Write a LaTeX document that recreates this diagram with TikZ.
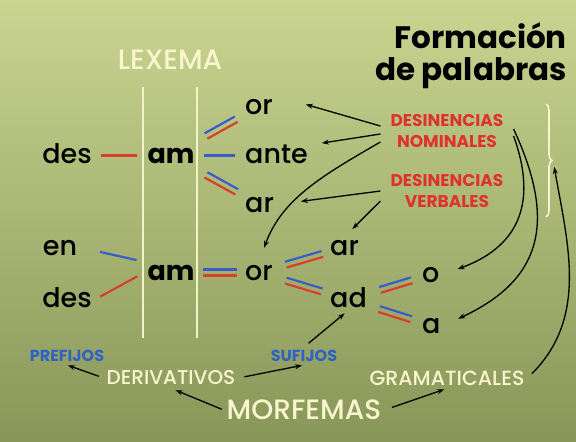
\documentclass[tikz,border=0pt]{standalone}
\usepackage{fontspec}
\setmainfont{Poppins}
\newfontfamily\mediumfont{Poppins Medium}
\usetikzlibrary{calc,arrows.meta,decorations.pathreplacing}

\definecolor{leafgreen}{HTML}{C9D58F}
\definecolor{olivegreen}{HTML}{889659}
\definecolor{creamtext}{HTML}{F8F5CF}
\definecolor{strokered}{HTML}{D8402C}
\definecolor{strokeblue}{HTML}{3A5DCB}
\definecolor{labelred}{HTML}{E0322C}
\definecolor{labelblue}{HTML}{2F62C4}

% two parallel strokes, blue on the left of the way out, red on the right
\newcommand{\morphpair}[4]{%
    \draw[blue stroke, shorten <=#3, shorten >=#4]
        ($(#1.center)!3pt!90:(#2.center)$) -- ($(#2.center)!3pt!-90:(#1.center)$);
    \draw[red stroke, shorten <=#3, shorten >=#4]
        ($(#1.center)!3pt!-90:(#2.center)$) -- ($(#2.center)!3pt!90:(#1.center)$);}

\begin{document}
\begin{tikzpicture}[
    x=1pt, y=1pt,
    morph/.style={font=\mediumfont\fontsize{27}{27}\selectfont, text height=15pt,
        text depth=0pt, inner sep=3pt},
    stem/.style={morph, font=\bfseries\fontsize{27}{27}\selectfont},
    cream label/.style={text=creamtext, inner sep=3pt},
    red label/.style={text=labelred, align=center, inner xsep=10pt,
        inner ysep=3pt, font=\bfseries\fontsize{17}{21}\selectfont},
    blue label/.style={text=labelblue, inner sep=3pt,
        font=\bfseries\fontsize{16}{16}\selectfont},
    red stroke/.style={strokered, line width=2.2pt},
    blue stroke/.style={strokeblue, line width=2.2pt},
    lexeme rule/.style={creamtext!90!leafgreen, line width=1.5pt},
    arr/.style={-{Stealth[length=7pt,width=5pt]}, line width=1.3pt, black}
    ]
    \useasboundingbox (0,0) rectangle (576,-442);
    \shade[top color=leafgreen, bottom color=olivegreen] (0,0) rectangle (576,-442);

    % Titles
    \node[cream label, font=\mediumfont\fontsize{28}{28}\selectfont] (lexema) at (170,-60) {LEXEMA};
    \node[anchor=base east, inner sep=0pt, font=\bfseries\fontsize{31}{31}\selectfont]
        (title1) at (567,-48) {Formación};
    \node[anchor=base east, inner sep=0pt, font=\bfseries\fontsize{31}{31}\selectfont]
        (title2) at (567,-80) {de palabras};

    % The lexeme between two rules
    \draw[lexeme rule] (143,-87) -- (143,-338);
    \draw[lexeme rule] (197,-87) -- (197,-338);

    % First word family
    \node[morph, anchor=base] (des1) at (67,-163) {des};
    \node[stem, anchor=base] (am1) at (171,-163) {am};
    \node[morph, anchor=base west] (or1) at (242,-114) {or};
    \node[morph, anchor=base west] (ante) at (242,-163) {ante};
    \node[morph, anchor=base west] (ar1) at (242,-212) {ar};

    % Second word family
    \node[morph, anchor=base] (en) at (60,-255) {en};
    \node[morph, anchor=base] (des2) at (67,-307) {des};
    \node[stem, anchor=base] (am2) at (171,-280) {am};
    \node[morph, anchor=base west] (or2) at (242,-280) {or};
    \node[morph, anchor=base west] (ar2) at (327,-255) {ar};
    \node[morph, anchor=base west] (ad) at (327,-307) {ad};
    \node[morph, anchor=base west] (o) at (419,-282) {o};
    \node[morph, anchor=base west] (a) at (419,-333) {a};

    % Strokes between morphemes
    \draw[red stroke, shorten <=6pt, shorten >=7pt] (des1) -- (am1);
    \draw[blue stroke, shorten <=6pt, shorten >=7pt] (am1) -- (ante);
    \draw[blue stroke, shorten <=20pt, shorten >=8pt] (en.east) -- (am2.north west);
    \draw[red stroke, shorten <=6pt, shorten >=8pt] (des2.east) -- (am2.west);
    \morphpair{am1}{or1}{40pt}{26pt}
    \morphpair{am1}{ar1}{40pt}{26pt}
    \morphpair{am2}{or2}{32pt}{22pt}
    \morphpair{or2}{ar2}{28pt}{23pt}
    \morphpair{or2}{ad}{28pt}{28pt}
    \morphpair{ad}{o}{33pt}{20pt}
    \morphpair{ad}{a}{32pt}{21pt}

    % Endings
    \node[red label] (dn) at (447,-131) {DESINENCIAS\\NOMINALES};
    \node[red label] (dv) at (447,-191) {DESINENCIAS\\VERBALES};
    \draw[creamtext, line width=1.6pt, decorate, decoration={brace, amplitude=6pt}]
        (546,-104) -- (546,-217);
    \coordinate (bracetip) at (553,-160);

    % Morphemes
    \node[cream label, font=\mediumfont\fontsize{28}{28}\selectfont] (morf) at (304,-410) {MORFEMAS};
    \node[cream label, font=\mediumfont\fontsize{20}{20}\selectfont] (deriv) at (171,-378) {DERIVATIVOS};
    \node[cream label, font=\mediumfont\fontsize{20.5}{20.5}\selectfont] (gram) at (447,-378) {GRAMATICALES};
    \node[blue label] (pref) at (67,-356) {PREFIJOS};
    \node[blue label] (suf) at (304,-356) {SUFIJOS};

    % Arrows
    \draw[arr, shorten >=31pt] ([yshift=5pt]dn.west) -- (or1.north east);
    \draw[arr, shorten >=11pt] ([yshift=-3pt]dn.west) -- (ante.north east);
    \draw[arr, shorten >=15pt] ([yshift=-11pt]dn.west) to[out=-150, in=70] (or2.north);
    \draw[arr, shorten >=24pt] (dv.west) -- (ar1.east);
    \draw[arr, shorten >=11pt] ([yshift=-10pt]dv.west) -- (ar2.north);
    \draw[arr, shorten >=16pt] ([yshift=-5pt]dn.east)
        to[out=-70, in=20, looseness=1.25] (o.east);
    \draw[arr, shorten >=16pt] ([yshift=2pt]dn.east)
        to[out=-65, in=25, looseness=1.3] (a.east);
    \draw[arr, shorten <=6pt, shorten >=7pt] (gram.east) to[out=45, in=-80] (bracetip);
    \draw[arr, shorten <=5pt, shorten >=1pt] (deriv.west) -- (pref.south);
    \draw[arr, shorten <=6pt, shorten >=2pt] (deriv.east) -- (suf.south);
    \draw[arr, shorten <=2pt, shorten >=5pt] (morf.west) -- (deriv.south);
    \draw[arr, shorten <=8pt, shorten >=3pt] (morf.east) -- (gram.south);
    \draw[arr, shorten <=6pt, shorten >=5pt] (suf.north) -- (ad.south);
\end{tikzpicture}
\end{document}
